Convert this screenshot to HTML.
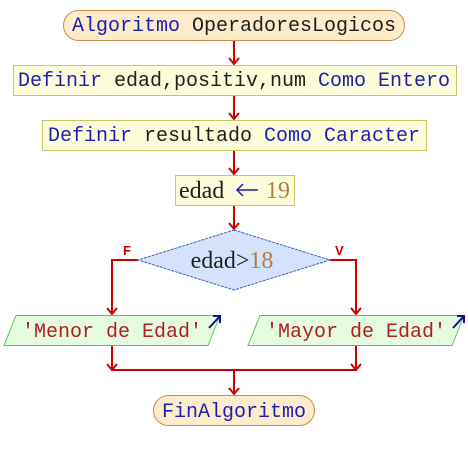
<!DOCTYPE html>
<html><head><meta charset="utf-8"><style>
html,body{margin:0;padding:0;background:#fff;}
svg{display:block;}
.m{font-family:"Liberation Mono",monospace;font-size:20px;}
.s{font-family:"Liberation Serif",serif;font-size:24px;}
</style></head><body>
<svg width="468" height="460" viewBox="0 0 468 460" xmlns="http://www.w3.org/2000/svg">
<g stroke="#cc0000" stroke-width="2" fill="none">
<line x1="234" y1="40" x2="234" y2="64"/>
<line x1="234" y1="95" x2="234" y2="119"/>
<line x1="234" y1="150" x2="234" y2="174"/>
<line x1="234" y1="205" x2="234" y2="229"/>
<polyline points="138,260 112,260 112,314"/>
<polyline points="330,260 356,260 356,314"/>
<line x1="112" y1="345" x2="112" y2="370"/>
<line x1="356" y1="345" x2="356" y2="370"/>
<line x1="112" y1="370" x2="356" y2="370"/>
<line x1="234" y1="370" x2="234" y2="394"/>
<polyline points="229,58 234,64 239,58"/>
<polyline points="229,113 234,119 239,113"/>
<polyline points="229,168 234,174 239,168"/>
<polyline points="229,223 234,229 239,223"/>
<polyline points="107,308 112,314 117,308"/>
<polyline points="351,308 356,314 361,308"/>
<polyline points="107,364 112,370 117,364"/>
<polyline points="351,364 356,370 361,364"/>
<polyline points="229,388 234,394 239,388"/>
</g>
<rect x="63.5" y="10.5" width="341" height="30" rx="15" fill="#fdeccb" stroke="#c89040"/>
<text x="234" y="31" text-anchor="middle" class="m"><tspan fill="#2020b0">Algoritmo</tspan> <tspan fill="#202020">OperadoresLogicos</tspan></text>
<rect x="13.5" y="65.5" width="443" height="30" fill="#fdfddc" stroke="#c8c860"/>
<text x="234" y="86" text-anchor="middle" class="m"><tspan fill="#2020b0">Definir</tspan> <tspan fill="#202020">edad,positiv,num</tspan> <tspan fill="#2020b0">Como Entero</tspan></text>
<rect x="42.5" y="120.5" width="384" height="30" fill="#fdfddc" stroke="#c8c860"/>
<text x="234" y="141" text-anchor="middle" class="m"><tspan fill="#2020b0">Definir</tspan> <tspan fill="#202020">resultado</tspan> <tspan fill="#2020b0">Como Caracter</tspan></text>
<rect x="175.5" y="175.5" width="119" height="30" fill="#fdfddc" stroke="#c8c860"/>
<text x="179" y="198" class="s" fill="#202020">edad</text>
<g stroke="#2020b0" stroke-width="1.5" fill="none"><line x1="237" y1="190" x2="258" y2="190"/><polyline points="243,184 237,190 243,196"/></g>
<text x="266" y="198" class="s" fill="#b08040">19</text>
<polygon points="234,230 330,260 234,290 138,260" fill="#d4e2fb" stroke="#4060c0" stroke-dasharray="3,1"/>
<text x="232" y="268" text-anchor="middle" class="s"><tspan fill="#202020">edad&gt;</tspan><tspan fill="#b08040">18</tspan></text>
<text x="123" y="255" font-family="Liberation Sans,sans-serif" font-weight="bold" font-size="13" fill="#cc0000">F</text>
<text x="335" y="255" font-family="Liberation Sans,sans-serif" font-weight="bold" font-size="13" fill="#cc0000">V</text>
<polygon points="16,315.5 220,315.5 208,345.5 4,345.5" fill="#e4fbe0" stroke="#60c060"/>
<text x="112" y="337" text-anchor="middle" class="m" fill="#b02020">'Menor de Edad'</text>
<polygon points="260,315.5 464,315.5 452,345.5 248,345.5" fill="#e4fbe0" stroke="#60c060"/>
<text x="356" y="337" text-anchor="middle" class="m" fill="#b02020">'Mayor de Edad'</text>
<g stroke="#101090" stroke-width="2" fill="none">
<line x1="209" y1="328" x2="220" y2="316"/><polyline points="213,316 220,316 220,323"/>
<line x1="453" y1="328" x2="464" y2="316"/><polyline points="457,316 464,316 464,323"/>
</g>
<rect x="153.5" y="395.5" width="161" height="30" rx="15" fill="#fdeccb" stroke="#c89040"/>
<text x="234" y="417" text-anchor="middle" class="m" fill="#2020b0">FinAlgoritmo</text>
</svg>
</body></html>
